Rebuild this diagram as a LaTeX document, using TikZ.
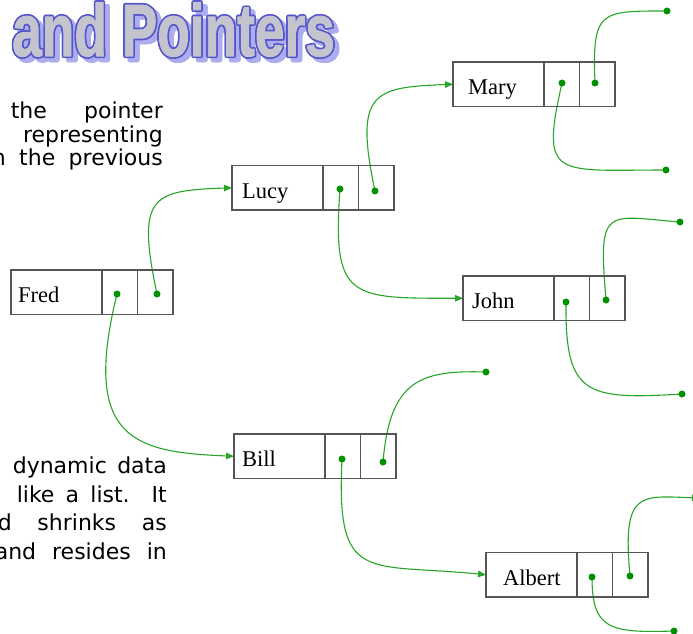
\documentclass[tikz,border=0pt]{standalone}
\usepackage{fontspec}
\usepackage{graphicx}
\setmainfont{Liberation Serif}
\newfontfamily\bodyfont{DejaVu Sans}
\newfontfamily\titlefont{Liberation Sans}[FakeBold=1.5]
\usetikzlibrary{arrows.meta}

\definecolor{linkgreen}{RGB}{40,165,40}
\definecolor{dotgreen}{RGB}{0,145,0}
\definecolor{cellline}{RGB}{85,85,85}
\definecolor{titleblue}{RGB}{85,85,205}
\definecolor{titlefill}{RGB}{196,196,206}
\definecolor{titleshadow}{RGB}{172,172,238}

\pgfdeclarelayer{links}
\pgfsetlayers{links,main}

\tikzset{
  cell/.style={draw=cellline, line width=1.2pt, inner sep=0pt, outer sep=0pt,
               minimum height=44.5pt, anchor=north west},
  namecell/.style={cell, minimum width=91pt},
  ptrcell/.style={cell, minimum width=35.5pt},
  reclabel/.style={font=\fontsize{22.5}{24}\selectfont, inner sep=0pt, anchor=base west},
  dot/.style={circle, fill=dotgreen, inner sep=0pt, minimum size=7pt},
  link/.style={draw=linkgreen, line width=1.1pt},
  arrowlink/.style={link, -{Triangle[length=8pt,width=6.5pt]}},
  para/.style={font=\bodyfont\fontsize{22}{26}\selectfont, inner sep=0pt, anchor=base east},
  titletext/.style={font=\titlefont\bfseries\fontsize{74}{74}\selectfont, inner sep=0pt, anchor=base west},
}

% one list record: name cell followed by two pointer cells
\newcommand\record[5]{%
  \node[namecell] (#1-t) at (#2,#3) {};
  \node[ptrcell] (#1-a) at (#1-t.north east) {};
  \node[ptrcell] (#1-b) at (#1-a.north east) {};
  \node[reclabel] (#1-n) at ([shift={(#5,10.5)}]#1-t.west) {#4};
}

\newcommand\titlewords{\scalebox{0.72}[1]{and Pointers}}

\begin{document}
\begin{tikzpicture}[x=1pt,y=-1pt]
\useasboundingbox (0,0) rectangle (693,634);
\clip (0,0) rectangle (693,634);

% heading: shadow, blue outline, grey face
\coordinate (tbase) at (12,56);
\foreach \ang in {0,30,...,330}{
  \node[titletext, text=titleshadow] (ts\ang) at ([shift={({4.5+1.8*cos(\ang)},{4+1.8*sin(\ang)})}]tbase) {\titlewords};
}
\foreach \ang in {0,30,...,330}{
  \node[titletext, text=titleblue] (to\ang) at ([shift={({1.6*cos(\ang)},{1.6*sin(\ang)})}]tbase) {\titlewords};
}
\node[titletext, text=titlefill] (title) at (tbase) {\titlewords};

% body text
\node[para] (p1) at (163,118) {\makebox[152pt][s]{the pointer}};
\node[para] (p2) at (163,142) {representing};
\node[para] (p3) at (163,165) {\makebox[171pt][s]{n the previous}};
\node[para] (q1) at (167,473) {\makebox[154pt][s]{dynamic data}};
\node[para] (q2) at (167,502) {\makebox[150pt][s]{like a list. It}};
\node[para] (q3) at (167,530) {\makebox[169pt][s]{d shrinks as}};
\node[para] (q4) at (167,559) {\makebox[172pt][s]{and resides in}};

% records
\record{fred}{11}{270}{Fred}{7}
\record{lucy}{232}{165.5}{Lucy}{10}
\record{mary}{453}{62}{Mary}{15}
\record{john}{463}{276}{John}{9}
\record{bill}{234}{434}{Bill}{8}
\record{albert}{486}{552.5}{Albert}{17}

% pointer dots
\node[dot] (fred-p) at (117,294) {};
\node[dot] (fred-q) at (157,294) {};
\node[dot] (lucy-p) at (340,189) {};
\node[dot] (lucy-q) at (375,191) {};
\node[dot] (mary-p) at (562,83) {};
\node[dot] (mary-q) at (595,83) {};
\node[dot] (john-p) at (566,302) {};
\node[dot] (john-q) at (606,300) {};
\node[dot] (bill-p) at (342,459) {};
\node[dot] (bill-q) at (383,462) {};
\node[dot] (albert-p) at (592,577) {};
\node[dot] (albert-q) at (630,576) {};

% loose pointer ends
\node[dot] (e1) at (667,11) {};
\node[dot] (e2) at (666,170) {};
\node[dot] (e3) at (680,222) {};
\node[dot] (e4) at (682,394) {};
\node[dot] (e5) at (486,372) {};
\node[dot] (e6) at (674,631) {};
\coordinate (e7) at (700,498);

\begin{pgfonlayer}{links}
  \draw[arrowlink] (fred-q.center) .. controls +(-21,-99) and +(-80,3) .. (lucy-t.west);
  \draw[arrowlink] (fred-p.center) .. controls +(-36,146) and +(-99,-4) .. (bill-t.west);
  \draw[arrowlink] (lucy-q.center) .. controls +(-21,-99) and +(-80,3) .. (mary-t.west);
  \draw[arrowlink] (lucy-p.center) .. controls +(-8,111) and +(-113,0) .. (john-t.west);
  \draw[arrowlink] (bill-p.center) .. controls +(-6,126) and +(-120,-12) .. (albert-t.west);
  \draw[link] (mary-q.center) .. controls +(-3,-73) and +(-67,0) .. (e1.center);
  \draw[link] (mary-p.center) .. controls +(-22,97) and +(-111,0) .. (e2.center);
  \draw[link] (john-q.center) .. controls +(-8,-95) and +(-75,-6) .. (e3.center);
  \draw[link] (john-p.center) .. controls +(-1,93) and +(-97,6) .. (e4.center);
  \draw[link] (bill-q.center) .. controls +(7,-82) and +(-66,-2) .. (e5.center);
  \draw[arrowlink] (albert-q.center) .. controls +(-8,-86) and +(-60,-2) .. (e7);
  \draw[link] (albert-p.center) .. controls +(0,53) and +(-64,2) .. (e6.center);
\end{pgfonlayer}
\end{tikzpicture}
\end{document}
